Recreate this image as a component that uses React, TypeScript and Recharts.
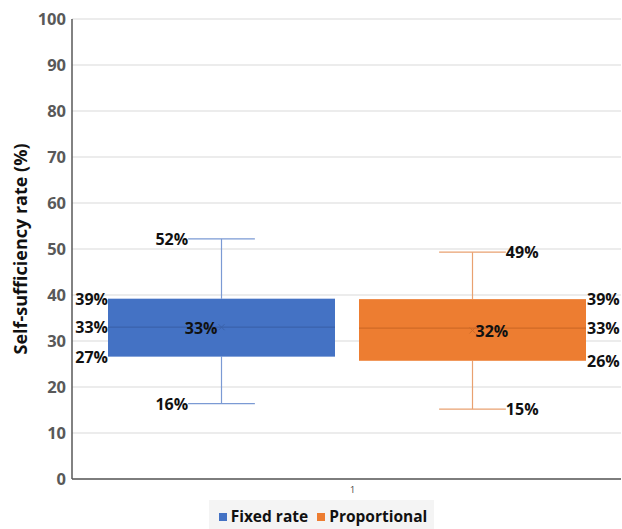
import React from 'react';
import { ComposedChart, Bar, XAxis, YAxis, CartesianGrid, Legend } from 'recharts';

const categories = ['1'];
const seriesNames = ['Fixed rate', 'Proportional'];
const seriesKeys = ['fixed', 'proportional'];
const seriesColors = ['#4472C4', '#ED7D31'];
const medianColors = ['#3A62AB', '#CF6A26'];
const whiskerColors = ['#7B9AD4', '#E9A170'];
const minValues = [16.4, 15.2];
const q1Values = [26.6, 25.7];
const medianValues = [33.0, 32.8];
const q3Values = [39.2, 39.1];
const maxValues = [52.2, 49.3];
const meanValues = [33.0, 32.3];
const yTicks = [0, 10, 20, 30, 40, 50, 60, 70, 80, 90, 100];
const yLabel = 'Self-sufficiency rate (%)';

const data = categories.map((c) => ({
  name: c,
  fixed: [minValues[0], maxValues[0]],
  proportional: [minValues[1], maxValues[1]],
}));

const FONT = "'Open Sans', 'DejaVu Sans', sans-serif";
const fmt = (v: number) => `${Math.round(v)}%`;

const makeShape = (i: number) => (props: any) => {
  const { x, y, width, height } = props;
  if (x == null || y == null) return null;
  const lo = minValues[i];
  const hi = maxValues[i];
  const k = height / (hi - lo);
  const py = (v: number) => y + (hi - v) * k;
  const cx = x + width / 2;
  const capHalf = width * 0.147;
  const left = i === 0;
  const wc = whiskerColors[i];
  const yMax = py(maxValues[i]);
  const yMin = py(minValues[i]);
  const yQ3 = py(q3Values[i]);
  const yQ1 = py(q1Values[i]);
  const yMed = py(medianValues[i]);
  const yMean = py(meanValues[i]);
  const whiskerLabelX = left ? cx - capHalf : cx + capHalf;
  const boxLabelX = left ? x : x + width + 1;
  const anchor = left ? 'end' : 'start';
  const lbl = { fontFamily: FONT, fontSize: 16, fontWeight: 700, fill: '#111' } as const;
  return (
    <g>
      <line x1={cx} x2={cx} y1={yMax} y2={yQ3} stroke={wc} strokeWidth={1.2} />
      <line x1={cx} x2={cx} y1={yQ1} y2={yMin} stroke={wc} strokeWidth={1.2} />
      <line x1={cx - capHalf} x2={cx + capHalf} y1={yMax} y2={yMax} stroke={wc} strokeWidth={1.2} />
      <line x1={cx - capHalf} x2={cx + capHalf} y1={yMin} y2={yMin} stroke={wc} strokeWidth={1.2} />
      <rect x={x} y={yQ3} width={width} height={yQ1 - yQ3} fill={seriesColors[i]} />
      <line x1={x} x2={x + width} y1={yMed} y2={yMed} stroke={medianColors[i]} strokeWidth={1.2} />
      <line x1={cx - 3} x2={cx + 3} y1={yMean - 3} y2={yMean + 3} stroke={medianColors[i]} strokeWidth={1} />
      <line x1={cx - 3} x2={cx + 3} y1={yMean + 3} y2={yMean - 3} stroke={medianColors[i]} strokeWidth={1} />
      <text x={whiskerLabelX} y={yMax} textAnchor={anchor} dominantBaseline="central" {...lbl}>{fmt(maxValues[i])}</text>
      <text x={whiskerLabelX} y={yMin} textAnchor={anchor} dominantBaseline="central" {...lbl}>{fmt(minValues[i])}</text>
      <text x={boxLabelX} y={yQ3} textAnchor={anchor} dominantBaseline="central" {...lbl}>{fmt(q3Values[i])}</text>
      <text x={boxLabelX} y={yMed} textAnchor={anchor} dominantBaseline="central" {...lbl}>{fmt(medianValues[i])}</text>
      <text x={boxLabelX} y={yQ1} textAnchor={anchor} dominantBaseline="central" {...lbl}>{fmt(q1Values[i])}</text>
      <text x={left ? cx - 4 : cx + 3} y={yMean + 1} textAnchor={anchor} dominantBaseline="central" {...lbl}>{fmt(meanValues[i])}</text>
    </g>
  );
};

const XTick = (props: any) => {
  const { x, y, payload } = props;
  return (
    <text x={x + 6} y={y + 6} textAnchor="middle" style={{ fontFamily: FONT, fontSize: 9, fill: '#404040' }}>
      {payload?.value}
    </text>
  );
};

const LegendContent = () => (
  <div style={{ display: 'flex', justifyContent: 'center', width: '100%' }}>
    <div
      style={{
        background: '#f4f4f4',
        height: 29,
        padding: '0 7px 0 10px',
        display: 'flex',
        alignItems: 'center',
        fontFamily: FONT,
        fontSize: 15.5,
        fontWeight: 700,
        color: '#111',
        marginLeft: 22,
      }}
    >
      {seriesNames.map((n, i) => (
        <div key={n} style={{ display: 'flex', alignItems: 'center', marginRight: i === 0 ? 9 : 0 }}>
          <span style={{ display: 'inline-block', width: 8, height: 8, background: seriesColors[i], marginRight: 4, marginTop: 4 }} />
          <span style={{ lineHeight: '29px', marginTop: 4 }}>{n}</span>
        </div>
      ))}
    </div>
  </div>
);

const YLabel = (props: any) => {
  const vb = props.viewBox || {};
  const cy = (vb.y ?? 19) + (vb.height ?? 460) / 2;
  return (
    <text
      x={20}
      y={cy}
      transform={`rotate(-90, 20, ${cy})`}
      textAnchor="middle"
      dominantBaseline="central"
      style={{ fontFamily: FONT, fontSize: 18, fontWeight: 700, fill: '#111' }}
    >
      {yLabel}
    </text>
  );
};

export default function App() {
  return (
    <div style={{ position: 'absolute', left: 0, top: 0, width: 622, height: 529, background: '#fff' }}>
      <ComposedChart
        width={622}
        height={529}
        data={data}
        margin={{ top: 19, right: 1, left: 0, bottom: 0 }}
        barCategoryGap={36}
        barGap={24}
        style={{ fontFamily: FONT }}
      >
        <CartesianGrid vertical={false} stroke="#d9d9d9" />
        <XAxis
          dataKey="name"
          height={21}
          axisLine={{ stroke: '#595959', strokeWidth: 1.5 }}
          tickLine={false}
          tick={<XTick />}
        />
        <YAxis
          width={72}
          domain={[0, 100]}
          ticks={yTicks}
          interval={0}
          tickLine={false}
          tickSize={6}
          tickMargin={0}
          axisLine={{ stroke: '#595959', strokeWidth: 1.5 }}
          tick={{ fontSize: 16.5, fontWeight: 700, fill: '#595959', fontFamily: FONT }}
          label={<YLabel />}
        />
        <Legend verticalAlign="bottom" height={29} content={<LegendContent />} />
        {seriesKeys.map((k, i) => (
          <Bar key={k} dataKey={k} name={seriesNames[i]} fill={seriesColors[i]} shape={makeShape(i)} isAnimationActive={false} />
        ))}
      </ComposedChart>
    </div>
  );
}
